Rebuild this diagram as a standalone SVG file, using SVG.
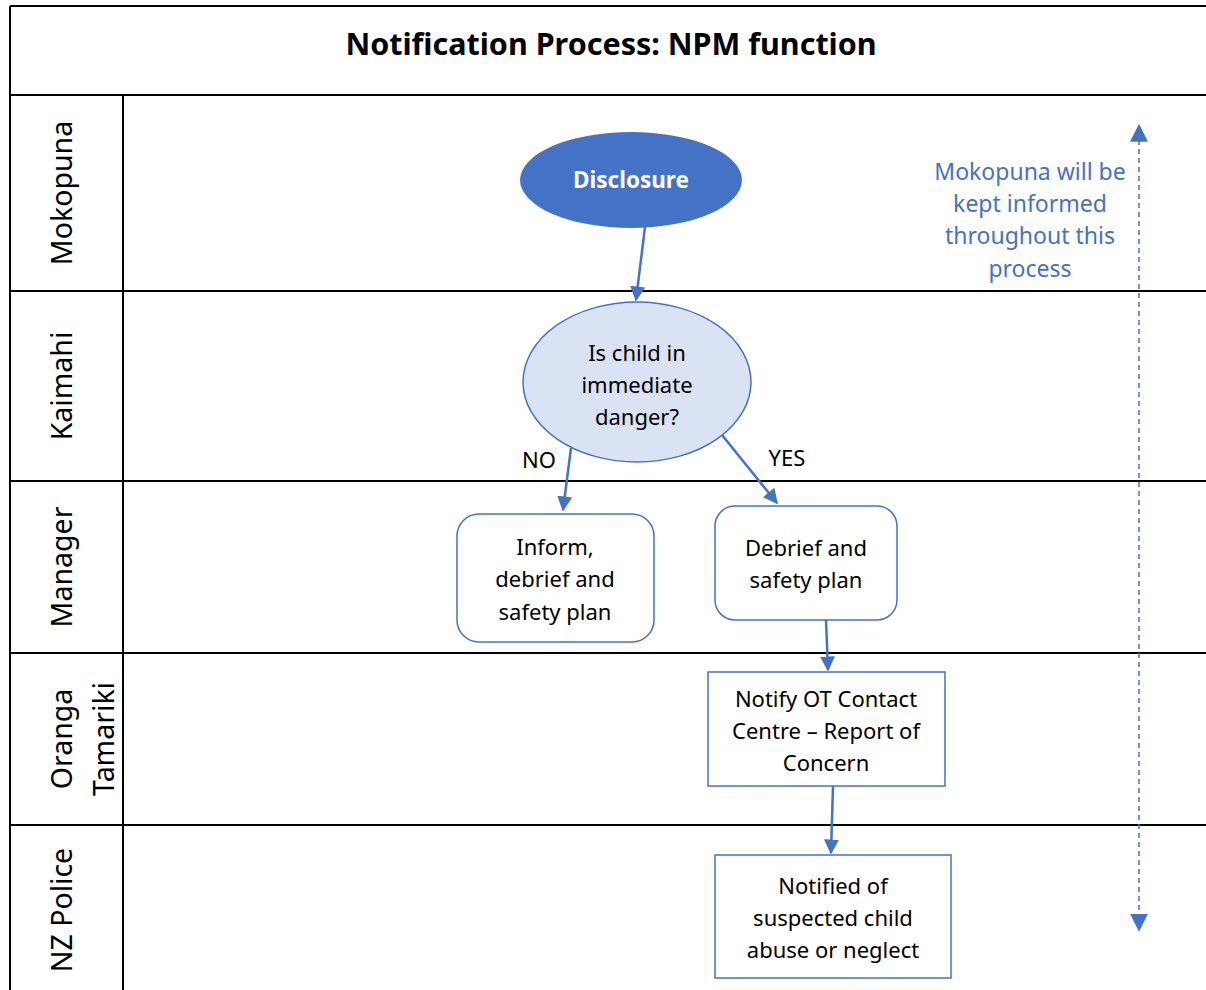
<svg xmlns="http://www.w3.org/2000/svg" width="1206" height="990" viewBox="0 0 1206 990">
<style>
.ln{stroke:#000;stroke-width:2;fill:none}
.t{font-family:"Noto Sans","Open Sans",sans-serif;font-size:22px;fill:#000;text-anchor:middle}
.lane{font-family:"Noto Sans","Open Sans",sans-serif;font-size:28.5px;fill:#000;text-anchor:middle}
.box{fill:#fff;stroke:#4472C4;stroke-width:1.5}
.c{stroke:#4472C4;stroke-width:2.5;fill:none;marker-end:url(#ah)}
.note{font-family:"Noto Sans","Open Sans",sans-serif;font-size:23px;fill:#4472C4;text-anchor:middle}
</style>
<defs>
<marker id="ah" viewBox="0 0 10 10" refX="9" refY="5" markerWidth="6" markerHeight="6" orient="auto" markerUnits="strokeWidth"><path d="M0,0L10,5L0,10z" fill="#4472C4"/></marker>
<marker id="ah2" viewBox="0 0 10 10" refX="9" refY="5" markerWidth="12" markerHeight="12" orient="auto" markerUnits="strokeWidth"><path d="M0,0L10,5L0,10z" fill="#4472C4"/></marker>
<marker id="ah3" viewBox="0 0 10 10" refX="1" refY="5" markerWidth="12" markerHeight="12" orient="auto-start-reverse" markerUnits="strokeWidth"><path d="M0,0L10,5L0,10z" fill="#4472C4"/></marker>
</defs>
<rect width="1206" height="990" fill="#fff"/>
<g id="frame">
<path class="ln" d="M10,6H1206M10,6V990M10,95H1206M123,95V990M10,291H1206M10,481H1206M10,653H1206M10,825H1206"/>
<text x="611" y="55" font-family="Noto Sans,Open Sans,sans-serif" font-size="30.5" font-weight="bold" text-anchor="middle">Notification Process: NPM function</text>
</g>
<g id="lanes">
<text class="lane" transform="translate(72,193) rotate(-90)">Mokopuna</text>
<text class="lane" transform="translate(72,386) rotate(-90)">Kaimahi</text>
<text class="lane" transform="translate(72,567) rotate(-90)">Manager</text>
<text class="lane" transform="translate(72,739) rotate(-90)">Oranga</text>
<text class="lane" transform="translate(114,739) rotate(-90)">Tamariki</text>
<text class="lane" transform="translate(72,910) rotate(-90)">NZ Police</text>
</g>
<g id="disclosure">
<ellipse cx="631" cy="180" rx="111" ry="48" fill="#4472C4"/>
<text x="631" y="188" font-family="Noto Sans,Open Sans,sans-serif" font-size="22.5" font-weight="bold" fill="#fff" text-anchor="middle">Disclosure</text>
</g>
<g id="decision">
<ellipse cx="637" cy="382" rx="114" ry="80" fill="#DAE3F3" stroke="#4472C4" stroke-width="1.5"/>
<text class="t" x="637" y="361">Is child in</text>
<text class="t" x="637" y="393">immediate</text>
<text class="t" x="637" y="425">danger?</text>
</g>
<g id="inform">
<rect class="box" x="457" y="514" width="197" height="128" rx="22"/>
<text class="t" x="555" y="555">Inform,</text>
<text class="t" x="555" y="587">debrief and</text>
<text class="t" x="555" y="620">safety plan</text>
</g>
<g id="debrief">
<rect class="box" x="715" y="506" width="182" height="114" rx="20"/>
<text class="t" x="806" y="556">Debrief and</text>
<text class="t" x="806" y="588">safety plan</text>
</g>
<g id="notify">
<rect class="box" x="708" y="672" width="237" height="114"/>
<text class="t" x="826" y="707">Notify OT Contact</text>
<text class="t" x="826" y="739">Centre – Report of</text>
<text class="t" x="826" y="771">Concern</text>
</g>
<g id="police">
<rect class="box" x="715" y="855" width="236" height="123"/>
<text class="t" x="833" y="894">Notified of</text>
<text class="t" x="833" y="926">suspected child</text>
<text class="t" x="833" y="958">abuse or neglect</text>
</g>
<g id="note">
<text class="note" x="1030" y="180">Mokopuna will be</text>
<text class="note" x="1030" y="212">kept informed</text>
<text class="note" x="1030" y="244">throughout this</text>
<text class="note" x="1030" y="277">process</text>
</g>
<g id="connectors">
<path class="c" d="M645,227L636,300"/>
<path class="c" d="M571,448L563,510"/>
<path class="c" d="M722,435L777,503"/>
<path class="c" d="M826,620L828,670"/>
<path class="c" d="M833,786L831,853"/>
<path d="M1139,140V930" stroke="#4472C4" stroke-width="1.5" stroke-dasharray="5,4" fill="none" marker-start="url(#ah3)" marker-end="url(#ah2)"/>
<text class="t" x="539" y="468">NO</text>
<text class="t" x="787" y="466">YES</text>
</g>
</svg>
